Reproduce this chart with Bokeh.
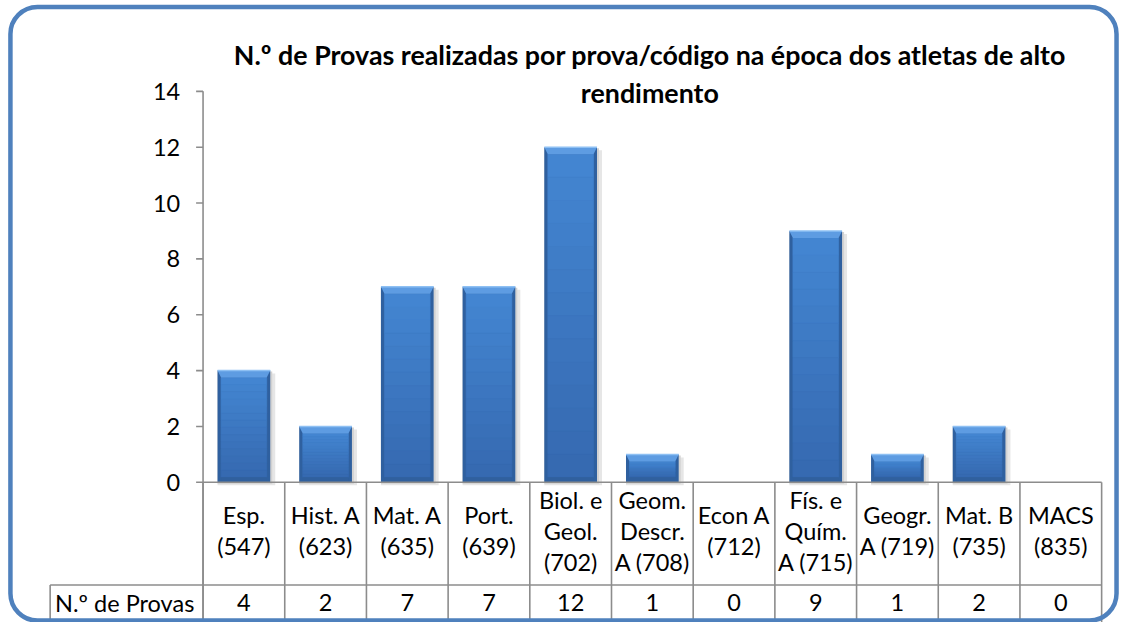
from bokeh.plotting import figure
from bokeh.models import Range1d
from bokeh.core.properties import value
from bokeh.embed import file_html
from bokeh.resources import INLINE

# ---- data ----
categories = ["Esp. (547)", "Hist. A (623)", "Mat. A (635)", "Port. (639)",
              "Biol. e Geol. (702)", "Geom. Descr. A (708)", "Econ A (712)",
              "Fís. e Quím. A (715)", "Geogr. A (719)", "Mat. B (735)", "MACS (835)"]
category_lines = [["Esp.", "(547)"], ["Hist. A", "(623)"], ["Mat. A", "(635)"],
                  ["Port.", "(639)"], ["Biol. e", "Geol.", "(702)"],
                  ["Geom.", "Descr.", "A (708)"], ["Econ A", "(712)"],
                  ["Fís. e", "Quím.", "A (715)"], ["Geogr.", "A (719)"],
                  ["Mat. B", "(735)"], ["MACS", "(835)"]]
provas = [4, 2, 7, 7, 12, 1, 0, 9, 1, 2, 0]
series_name = "N.º de Provas"
y_ticks = [0, 2, 4, 6, 8, 10, 12, 14]
title_lines = ["N.º de Provas realizadas por prova/código na época dos atletas de alto",
               "rendimento"]

# ---- layout: reference pixel grid (1128x630) scaled into the figure ----
W, H = 1120, 622
KX, KY = W / 1128, H / 630


def px(v):
    return v * KX


def py(v):
    return v * KY


X0, X1 = px(204), px(1109)      # plot area left/right
Y0, YT = py(488), py(92)        # pixel of value 0 / value 14
Y_MAX = 14
ROW1_BOT = py(592)              # bottom of category row
HEAD_L = px(50)                 # left of header cell
FONT = value("Lato")
FS = "23.5px"
BLUE = "#4F81BD"
GRID = "#8C8C8C"

n = len(categories)
sx = (X1 - X0) / n
sy = (Y0 - YT) / Y_MAX
bx_start = -0.5 - X0 / sx
by_start = -(H - Y0) / sy

p = figure(width=W, height=H, min_border=0, x_axis_location=None, y_axis_location=None,
           toolbar_location=None, output_backend="svg",
           x_range=Range1d(0, W), y_range=Range1d(H, 0))
p.extra_x_ranges = {"bx": Range1d(bx_start, bx_start + W / sx)}
p.extra_y_ranges = {"by": Range1d(by_start, by_start + H / sy)}
p.outline_line_color = None
p.background_fill_color = "white"
p.border_fill_color = "white"
p.grid.visible = False

idx = list(range(n))

# ---- bars ----
bw = 0.645
ex = 3.5 / sx    # side edge width in data x
ey = 7 / sy      # top bevel height in data y
eb = 5 / sy      # bottom bevel height
nz = [i for i in idx if provas[i] > 0]
vals = [provas[i] for i in nz]
R = dict(x_range_name="bx", y_range_name="by")
# soft shadow
p.vbar(x=[i + 2.5 / sx for i in nz], top=[v - 3 / sy for v in vals], bottom=-3 / sy,
       width=bw + 5 / sx, fill_color="#E6E6E6", line_color=None, **R)
p.vbar(x=[i + 1 / sx for i in nz], top=[v - 1 / sy for v in vals], bottom=-1.5 / sy,
       width=bw + 2 / sx, fill_color="#D2D2D2", line_color=None, **R)
# dark outer body
p.vbar(x=nz, top=vals, bottom=0, width=bw, fill_color="#2F609F", line_color=None, **R)
# face: vertical shading bands, lighter at the top of each bar
top_rgb = (0x44, 0x86, 0xD2)
bot_rgb = (0x35, 0x69, 0xB0)
NB = 14
for b in range(NB):
    f0 = b / NB
    f1 = (b + 1) / NB
    t = (b + 0.5) / NB
    col = "#%02X%02X%02X" % tuple(round(top_rgb[c] + (bot_rgb[c] - top_rgb[c]) * t)
                                  for c in range(3))
    tops = [(v - ey) - (v - ey - eb) * f0 for v in vals]
    bots = [(v - ey) - (v - ey - eb) * f1 for v in vals]
    p.vbar(x=nz, top=tops, bottom=bots, width=bw - 2 * ex, fill_color=col,
           line_color=col, line_width=0.6, **R)
# bottom bevel
p.vbar(x=nz, top=eb, bottom=0, width=bw - 2 * ex, fill_color="#30609E",
       line_color=None, **R)
# top bevel
bev_xs = [[i - bw / 2, i + bw / 2, i + bw / 2 - ex, i - bw / 2 + ex] for i in nz]
bev_ys = [[v, v, v - ey, v - ey] for v in vals]
p.patches(xs=bev_xs, ys=bev_ys, fill_color="#5E9CE2", line_color=None, **R)
p.segment(x0=[i - bw / 2 for i in nz], x1=[i + bw / 2 for i in nz], y0=vals, y1=vals,
          line_color="#8EC0F3", line_width=1.5, **R)

# ---- y axis ----
p.segment(x0=[-0.5], x1=[-0.5], y0=[YT], y1=[H], line_color=GRID, line_width=1.6,
          x_range_name="bx")
p.segment(x0=[X0 - px(7)] * len(y_ticks), x1=[X0] * len(y_ticks), y0=y_ticks,
          y1=y_ticks, line_color=GRID, line_width=1.6, y_range_name="by")
p.text(x=[px(181)] * len(y_ticks), y=y_ticks, text=[str(t) for t in y_ticks],
       text_font=FONT, text_font_size=FS, text_color="black",
       text_align="right", text_baseline="middle", y_range_name="by")

# ---- data table ----
p.segment(x0=[-0.5], x1=[n - 0.5], y0=[Y0], y1=[Y0], line_color=GRID, line_width=1.6,
          x_range_name="bx")
bounds = [k - 0.5 for k in range(n + 1)]
p.segment(x0=bounds, x1=bounds, y0=[Y0] * len(bounds), y1=[H] * len(bounds),
          line_color=GRID, line_width=1.6, x_range_name="bx")
p.segment(x0=[HEAD_L], x1=[X1], y0=[ROW1_BOT], y1=[ROW1_BOT], line_color=GRID,
          line_width=1.6)
p.segment(x0=[HEAD_L], x1=[HEAD_L], y0=[ROW1_BOT], y1=[H], line_color=GRID,
          line_width=1.6)

lab_x, lab_y, lab_t = [], [], []
row_mid = py(537)
lh = py(31.5)
for i, lines in enumerate(category_lines):
    k = len(lines)
    for j, t in enumerate(lines):
        lab_x.append(i)
        lab_y.append(row_mid + (j - (k - 1) / 2) * lh)
        lab_t.append(t)
p.text(x=lab_x, y=lab_y, text=lab_t, text_font=FONT, text_font_size=FS,
       text_color="black", text_align="center", text_baseline="middle",
       x_range_name="bx")

val_y = py(610)
p.text(x=idx, y=[val_y] * n, text=[str(v) for v in provas], text_font=FONT,
       text_font_size=FS, text_color="black", text_align="center",
       text_baseline="middle", x_range_name="bx")
p.text(x=[px(55)], y=[val_y], text=[series_name], text_font=FONT,
       text_font_size=FS, text_color="black", text_align="left",
       text_baseline="middle")

# ---- title ----
p.text(x=[px(654), px(654)], y=[py(55), py(94)], text=title_lines, text_font=FONT,
       text_font_size="26.8px", text_font_style="bold", text_color="black",
       text_align="center", text_baseline="middle")

# ---- rounded chart border ----
p.quad(left=[px(10)], right=[px(1124)], top=[py(6.5)], bottom=[py(628)],
       border_radius=27, fill_color=None, line_color=BLUE, line_width=4.5)

open("out.html", "w").write(file_html(p, INLINE))
